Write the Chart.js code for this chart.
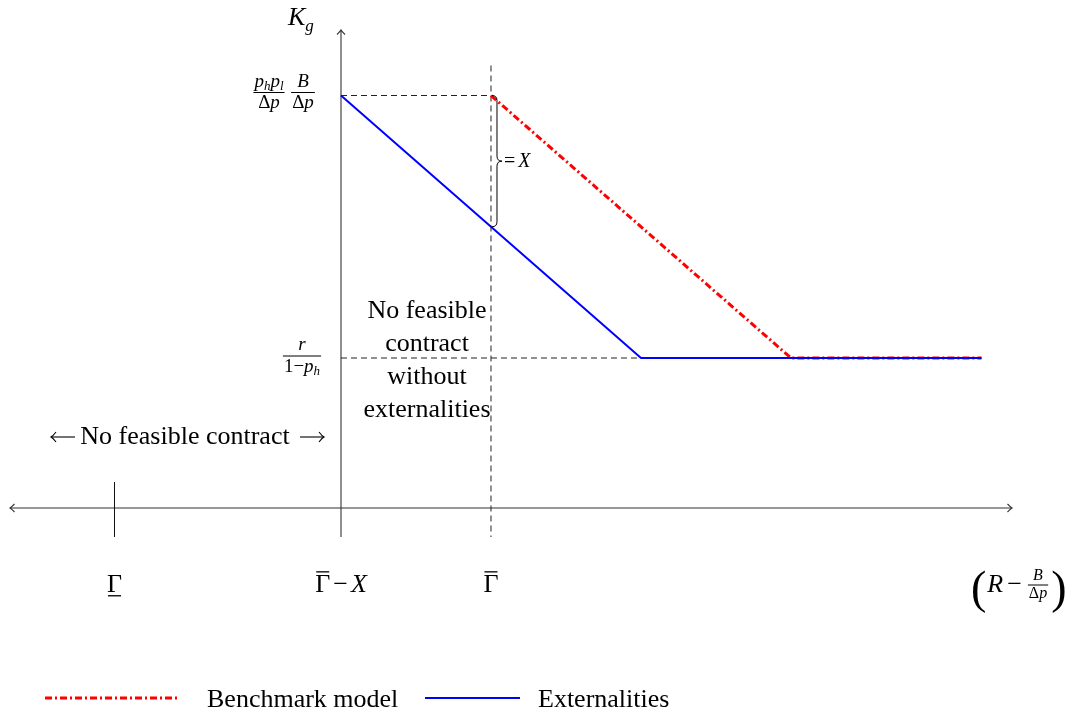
<!DOCTYPE html>
<html><head><meta charset="utf-8">
<script src="https://cdn.jsdelivr.net/npm/chart.js@4/dist/chart.umd.min.js"></script>
<style>html,body{margin:0;padding:0;background:#fff;}#wrap{width:1073px;height:717px;position:relative;}</style>
</head><body><div id="wrap"><canvas id="c"></canvas></div>
<script>
// ---- data ----
const benchmarkX = [1, 3, 4.27];
const benchmarkY = [2.75, 1, 1];
const externalX  = [0, 2, 4.27];
const externalY  = [2.75, 1, 1];
const seriesNames = ['Benchmark model', 'Externalities'];
const xTickValues = [-1.51, 0, 1];      // Γ_low, Γbar − X, Γbar
const yTickValues = [2.75, 1];           // p_h p_l/Δp · B/Δp , r/(1−p_h)
const xRange = [-2.2733, 4.88];
const yRange = [-1.3933, 3.3867];

const SERIF = '"Liberation Serif","Times New Roman",serif';
function F(size, it){ return (it ? 'italic ' : '') + size + 'px ' + SERIF; }

function runsWidth(ctx, runs){
  let w = 0;
  for (const r of runs){ ctx.font = F(r.s, r.it); w += ctx.measureText(r.t).width + (r.gap||0); }
  return w;
}
function drawRuns(ctx, runs, x, y, align){
  const w = runsWidth(ctx, runs);
  let cx = align === 'center' ? x - w/2 : align === 'right' ? x - w : x;
  ctx.textAlign = 'left'; ctx.textBaseline = 'alphabetic';
  for (const r of runs){
    ctx.font = F(r.s, r.it);
    ctx.fillText(r.t, cx, y + (r.dy||0));
    const ww = ctx.measureText(r.t).width;
    if (r.over){ ctx.fillRect(cx+1, y - r.s*0.80, ww-2, 1.3); }
    if (r.under){ ctx.fillRect(cx+1, y + r.s*0.12, ww-2, 1.3); }
    cx += ww + (r.gap||0);
  }
  return w;
}
function drawFrac(ctx, num, den, cx, barY){
  const wn = runsWidth(ctx, num), wd = runsWidth(ctx, den);
  const w = Math.max(wn, wd) + 2;
  const s = num[0].s;
  drawRuns(ctx, num, cx, barY - s*0.3, 'center');
  drawRuns(ctx, den, cx, barY + s*0.82, 'center');
  ctx.fillRect(cx - w/2, barY - 0.5, w, 1);
  return w;
}
function arrowHead(ctx, x, y, dir){ // dir: 'l','r','u'
  ctx.beginPath();
  if (dir === 'l'){ ctx.moveTo(x+4.5, y-4); ctx.quadraticCurveTo(x+1, y-0.5, x, y); ctx.quadraticCurveTo(x+1, y+0.5, x+4.5, y+4); }
  if (dir === 'r'){ ctx.moveTo(x-4.5, y-4); ctx.quadraticCurveTo(x-1, y-0.5, x, y); ctx.quadraticCurveTo(x-1, y+0.5, x-4.5, y+4); }
  if (dir === 'u'){ ctx.moveTo(x-4, y+4.5); ctx.quadraticCurveTo(x-0.5, y+1, x, y); ctx.quadraticCurveTo(x+0.5, y+1, x+4, y+4.5); }
  ctx.stroke();
}
function textArrow(ctx, x1, x2, y, dir){
  ctx.beginPath(); ctx.moveTo(x1, y); ctx.lineTo(x2, y); ctx.stroke();
  ctx.beginPath();
  if (dir === 'l'){ ctx.moveTo(x1+5, y-5); ctx.quadraticCurveTo(x1+2, y-1, x1, y); ctx.quadraticCurveTo(x1+2, y+1, x1+5, y+5); }
  else { ctx.moveTo(x2-5, y-5); ctx.quadraticCurveTo(x2-2, y-1, x2, y); ctx.quadraticCurveTo(x2-2, y+1, x2-5, y+5); }
  ctx.stroke();
}
function brace(ctx, x, y1, y2, w){
  const ym = (y1+y2)/2, h = w/2;
  ctx.beginPath();
  ctx.moveTo(x, y1);
  ctx.quadraticCurveTo(x+h, y1, x+h, y1+h);
  ctx.lineTo(x+h, ym-h);
  ctx.quadraticCurveTo(x+h, ym, x+w, ym);
  ctx.quadraticCurveTo(x+h, ym, x+h, ym+h);
  ctx.lineTo(x+h, y2-h);
  ctx.quadraticCurveTo(x+h, y2, x, y2);
  ctx.stroke();
}

const decor = {
  id: 'decor',
  beforeDatasetsDraw(chart){
    const ctx = chart.ctx, xs = chart.scales.x, ys = chart.scales.y;
    const X = v => xs.getPixelForValue(v), Y = v => ys.getPixelForValue(v);
    const ay = Y(0), ax = X(0);
    ctx.save();
    ctx.strokeStyle = '#333'; ctx.lineWidth = 1.1;
    // x axis
    ctx.beginPath(); ctx.moveTo(10, ay); ctx.lineTo(1012, ay); ctx.stroke();
    arrowHead(ctx, 10, ay, 'l'); arrowHead(ctx, 1012, ay, 'r');
    // y axis
    ctx.beginPath(); ctx.moveTo(ax, ay + 29); ctx.lineTo(ax, 30); ctx.stroke();
    arrowHead(ctx, ax, 30, 'u');
    // Γ_low tick
    ctx.strokeStyle = '#111'; ctx.lineWidth = 1;
    ctx.beginPath(); ctx.moveTo(X(xTickValues[0]), ay - 26); ctx.lineTo(X(xTickValues[0]), ay + 29); ctx.stroke();
    // dashed guides
    ctx.setLineDash([6,4]); ctx.strokeStyle = '#222';
    ctx.beginPath(); ctx.moveTo(X(xTickValues[2]), Y(yTickValues[0]) - 30); ctx.lineTo(X(xTickValues[2]), ay + 29); ctx.stroke();
    ctx.beginPath(); ctx.moveTo(ax, Y(yTickValues[0])); ctx.lineTo(X(xTickValues[2]), Y(yTickValues[0])); ctx.stroke();
    ctx.beginPath(); ctx.moveTo(ax, Y(yTickValues[1])); ctx.lineTo(X(externalX[1]), Y(yTickValues[1])); ctx.stroke();
    ctx.setLineDash([]);
    ctx.restore();
  },
  afterDatasetsDraw(chart){
    const ctx = chart.ctx, xs = chart.scales.x, ys = chart.scales.y;
    const X = v => xs.getPixelForValue(v), Y = v => ys.getPixelForValue(v);
    const ay = Y(0), ax = X(0);
    ctx.save();
    ctx.fillStyle = '#000'; ctx.strokeStyle = '#000'; ctx.lineWidth = 1;
    // brace = X
    const gb = X(xTickValues[2]);
    const yCross = Y(externalY[0] - (externalY[0]-externalY[1]) * (xTickValues[2]-externalX[0])/(externalX[1]-externalX[0]));
    brace(ctx, gb + 1, Y(yTickValues[0]), yCross, 10);
    drawRuns(ctx, [{t:'=',s:20,it:false,gap:3},{t:'X',s:20,it:true}], gb + 13, 167, 'left');
    // K_g
    drawRuns(ctx, [{t:'K',s:26,it:true},{t:'g',s:17,it:true,dy:6}], ax - 53, 25, 'left');
    // y tick labels
    const yh = Y(yTickValues[0]);
    drawFrac(ctx, [{t:'p',s:19,it:true},{t:'h',s:13,it:true,dy:3},{t:'p',s:19,it:true},{t:'l',s:13,it:true,dy:3}],
                  [{t:'Δ',s:19,it:false},{t:'p',s:19,it:true}], ax - 72, yh - 3);
    drawFrac(ctx, [{t:'B',s:19,it:true}], [{t:'Δ',s:19,it:false},{t:'p',s:19,it:true}], ax - 38, yh - 3);
    const yl = Y(yTickValues[1]);
    drawFrac(ctx, [{t:'r',s:19,it:true}], [{t:'1',s:19},{t:'−',s:19},{t:'p',s:19,it:true},{t:'h',s:13,it:true,dy:3}], ax - 39, yl - 2);
    // x tick labels
    const by = ay + 84;
    drawRuns(ctx, [{t:'Γ',s:26,under:true}], X(xTickValues[0]), by, 'center');
    drawRuns(ctx, [{t:'Γ',s:26,over:true,gap:3},{t:'−',s:26,gap:3},{t:'X',s:26,it:true}], X(xTickValues[1]), by, 'center');
    drawRuns(ctx, [{t:'Γ',s:26,over:true}], X(xTickValues[2]), by, 'center');
    // (R − B/Δp)
    let px = 971;
    ctx.font = '46px ' + SERIF; ctx.textBaseline = 'alphabetic'; ctx.textAlign = 'left';
    ctx.fillText('(', px, by + 11);
    px += ctx.measureText('(').width + 1;
    px += drawRuns(ctx, [{t:'R',s:26,it:true,gap:4},{t:'−',s:26,gap:6}], px, by, 'left');
    const fw = runsWidth(ctx, [{t:'Δ',s:16},{t:'p',s:16,it:true}]) + 2;
    drawFrac(ctx, [{t:'B',s:16,it:true}], [{t:'Δ',s:16},{t:'p',s:16,it:true}], px + fw/2, by - 7);
    px += fw + 3;
    ctx.font = '46px ' + SERIF;
    ctx.fillText(')', px, by + 11);
    // region texts
    ctx.textAlign = 'center'; ctx.font = F(26, false);
    ctx.fillText('No feasible contract', 185, 444);
    ctx.lineWidth = 1.1;
    textArrow(ctx, 51, 75, 437, 'l');
    textArrow(ctx, 300, 324, 437, 'r');
    const cx = (ax + gb)/2 + 11;
    ['No feasible','contract','without','externalities'].forEach((t,i)=>{
      ctx.fillText(t, cx, 318 + i*33);
    });
    // legend
    const ly = 698;
    ctx.lineWidth = 3; ctx.strokeStyle = '#ff0000'; ctx.setLineDash([7,3,2,3]);
    ctx.beginPath(); ctx.moveTo(45, ly); ctx.lineTo(180, ly); ctx.stroke();
    ctx.setLineDash([]); ctx.lineWidth = 2; ctx.strokeStyle = '#0000ff';
    ctx.beginPath(); ctx.moveTo(425, ly); ctx.lineTo(520, ly); ctx.stroke();
    ctx.fillStyle = '#000'; ctx.textAlign = 'left'; ctx.font = F(26, false);
    ctx.fillText(seriesNames[0], 207, ly + 9);
    ctx.fillText(seriesNames[1], 538, ly + 9);
    ctx.restore();
  }
};

new Chart(document.getElementById('c'), {
  type: 'line',
  data: {
    datasets: [
      { label: seriesNames[0], data: benchmarkX.map((x,i)=>({x, y: benchmarkY[i]})),
        borderColor: '#ff0000', borderWidth: 3, borderDash: [7,3,2,3], pointRadius: 0, order: 1, fill: false, tension: 0 },
      { label: seriesNames[1], data: externalX.map((x,i)=>({x, y: externalY[i]})),
        borderColor: '#0000ff', borderWidth: 2, pointRadius: 0, order: 0, fill: false, tension: 0 }
    ]
  },
  options: {
    responsive: true, maintainAspectRatio: false, animation: false,
    layout: { padding: 0 },
    plugins: { legend: { display: false }, tooltip: { enabled: false } },
    scales: {
      x: { type: 'linear', min: xRange[0], max: xRange[1], display: false },
      y: { type: 'linear', min: yRange[0], max: yRange[1], display: false }
    }
  },
  plugins: [decor]
});
</script>
</body></html>
